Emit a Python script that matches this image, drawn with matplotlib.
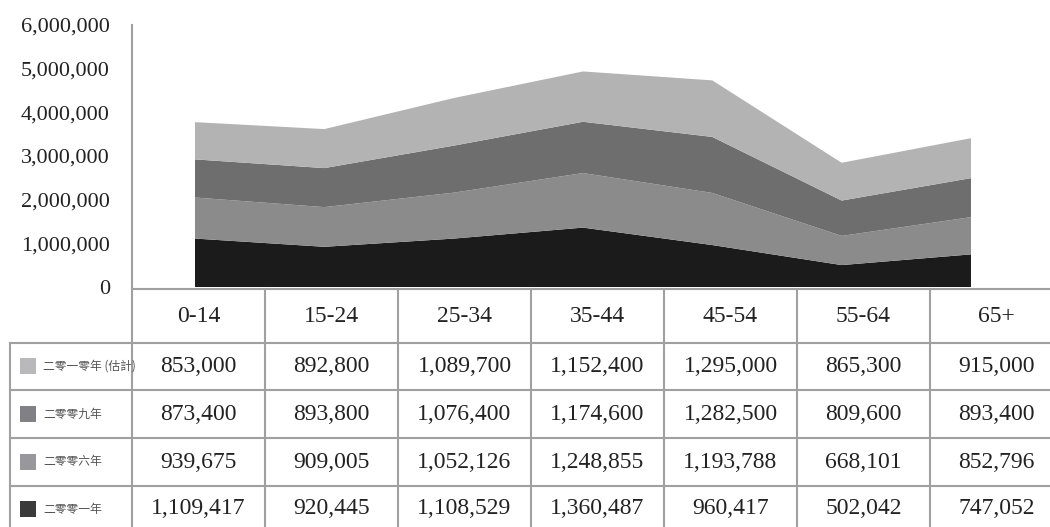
import numpy as np
import matplotlib.pyplot as plt

# 年齡組別
groups = ['0-14', '15-24', '25-34', '35-44', '45-54', '55-64', '65+']

# 各年份人口 (由下而上堆疊)
y2001 = [1109417, 920445, 1108529, 1360487, 960417, 502042, 747052]
y2006 = [939675, 909005, 1052126, 1248855, 1193788, 668101, 852796]
y2009 = [873400, 893800, 1076400, 1174600, 1282500, 809600, 893400]
y2010 = [853000, 892800, 1089700, 1152400, 1295000, 865300, 915000]

series_names = ['二零零一年', '二零零六年', '二零零九年', '二零一零年 (估計)']
area_colors = ['#1b1b1b', '#8b8b8b', '#6e6e6e', '#b3b3b3']
key_colors = ['#3a3a3a', '#98989c', '#808085', '#b9b9bc']

W, H = 1050, 527
fig = plt.figure(figsize=(W / 100, H / 100), dpi=100)

# 面積圖
ax = fig.add_axes([132 / W, (H - 287) / H, (W - 132) / W, (287 - 25) / H])
x = np.arange(len(groups))
ax.stackplot(x, y2001, y2006, y2009, y2010, colors=area_colors, linewidth=0)
unit = 129.33
ax.set_xlim(-(195 - 132) / unit, -(195 - 132) / unit + (W - 132) / unit)
ax.set_ylim(0, 6000000)
ax.set_yticks(range(0, 6000001, 1000000))
ax.set_yticklabels([f'{v:,}' for v in range(0, 6000001, 1000000)],
                   fontfamily='Liberation Serif', fontsize=16, color='#222222')
ax.tick_params(axis='y', length=0, pad=16)
ax.set_xticks([])
for s in ['top', 'right', 'bottom']:
    ax.spines[s].set_visible(False)
ax.spines['left'].set_color('#a0a0a0')
ax.spines['left'].set_linewidth(1.5)

# 資料表 (像素座標)
tab = fig.add_axes([0, 0, 1, 1])
tab.set_xlim(0, W)
tab.set_ylim(H, 0)
tab.axis('off')
tab.patch.set_visible(False)

col_edges = [132 + 133 * i for i in range(8)]
row_edges = [289, 343, 390, 438, 486, 535]
lc = '#a0a0a0'
lw = 1.5

tab.plot([132, W], [row_edges[0]] * 2, color=lc, lw=lw)
for yy in row_edges[1:-1]:
    tab.plot([10, W], [yy, yy], color=lc, lw=lw)
tab.plot([10, 10], [row_edges[1], H], color=lc, lw=lw)
for xx in col_edges[1:-1]:
    tab.plot([xx, xx], [row_edges[0], H], color=lc, lw=lw)
tab.plot([132, 132], [287, H], color=lc, lw=lw)

centers = [(col_edges[i] + col_edges[i + 1]) / 2 for i in range(7)]
for cx, g in zip(centers, groups):
    tab.text(cx, 317, g, ha='center', va='center', fontfamily='Liberation Serif',
             fontsize=17, color='#222222')

rows = [y2010, y2009, y2006, y2001]
row_labels = series_names[::-1]
row_keys = key_colors[::-1]
row_y = [366, 414, 462, 509]
for ry, vals, lab, kc in zip(row_y, rows, row_labels, row_keys):
    tab.add_patch(plt.Rectangle((20, ry - 8), 16, 16, color=kc, lw=0))
    tab.text(43, ry, lab, ha='left', va='center', fontfamily='Noto Sans CJK TC',
             fontsize=8.5, color='#555555', fontweight='light')
    for cx, v in zip(centers, vals):
        tab.text(cx, ry, f'{v:,}', ha='center', va='center',
                 fontfamily='Liberation Serif', fontsize=17, color='#222222')

fig.savefig('out.png', dpi=100)
